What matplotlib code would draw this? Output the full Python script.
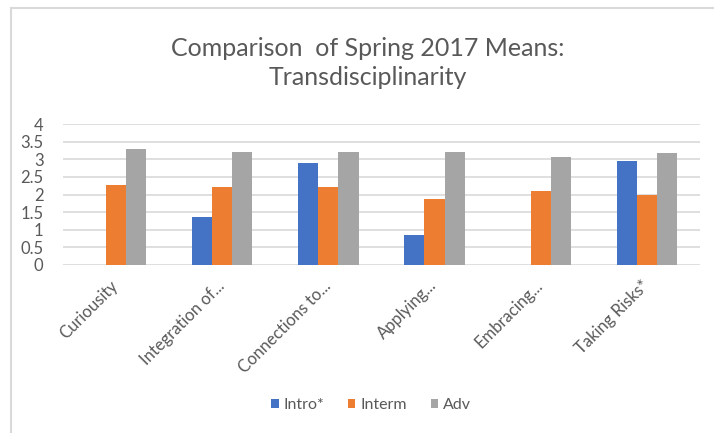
import numpy as np
import matplotlib
matplotlib.use("Agg")
import matplotlib.pyplot as plt
import matplotlib.transforms as mtransforms
from matplotlib.lines import Line2D

# data
categories = ["Curiousity", "Integration of...", "Connections to...",
              "Applying...", "Embracing...", "Taking Risks*"]
series_names = ["Intro*", "Interm", "Adv"]
intro = [np.nan, 1.36, 2.88, 0.85, np.nan, 2.95]
interm = [2.26, 2.20, 2.20, 1.86, 2.10, 1.99]
adv = [3.28, 3.22, 3.22, 3.22, 3.05, 3.17]
yticks = [0, 0.5, 1, 1.5, 2, 2.5, 3, 3.5, 4]

colors = ["#4472C4", "#ED7D31", "#A5A5A5"]
txt_gray = "#595959"
grid_gray = "#D9D9D9"

plt.rcParams["font.family"] = ["Lato", "DejaVu Sans"]

fig = plt.figure(figsize=(7.14, 4.33), dpi=100)
ax = fig.add_axes([0.0882, 0.388, 0.892, 0.3256])

x = np.arange(len(categories))
w = 0.19
for i, (vals, name) in enumerate(zip([intro, interm, adv], series_names)):
    ax.bar(x + (i - 1) * w, vals, width=w, color=colors[i], label=name, zorder=3)

ax.set_xlim(-0.5, len(categories) - 0.5)
ax.set_ylim(0, 4)
ax.set_yticks(yticks)
ax.set_yticklabels([f"{t:g}" for t in yticks], color=txt_gray, fontsize=12)
ax.yaxis.grid(True, color=grid_gray, linewidth=1.2, zorder=0)
for s in ax.spines.values():
    s.set_visible(False)
ax.tick_params(axis="both", length=0)
ax.tick_params(axis="y", pad=14)

ax.set_xticks(x)
ax.set_xticklabels(categories, rotation=45, ha="right", va="top",
                   rotation_mode="anchor", color=txt_gray, fontsize=12)
ax.tick_params(axis="x", pad=9)
shift = mtransforms.ScaledTranslation(-6 / 100, 0, fig.dpi_scale_trans)
for lab in ax.get_xticklabels():
    lab.set_transform(lab.get_transform() + shift)

# title, two centred lines
fig.text(368 / 714, 1 - 56 / 433, "Comparison  of Spring 2017 Means:",
         ha="center", va="baseline", fontsize=18, color=txt_gray)
fig.text(368 / 714, 1 - 85 / 433, "Transdisciplinarity",
         ha="center", va="baseline", fontsize=18, color=txt_gray)

leg = fig.legend(loc="center", bbox_to_anchor=(371 / 714, 1 - 405 / 433), ncol=3,
                 frameon=False, fontsize=11.5, handlelength=0.45, handleheight=0.45,
                 handletextpad=0.3, columnspacing=1.5)
for t in leg.get_texts():
    t.set_color(txt_gray)

# frame of the embedded chart
fig.add_artist(Line2D([11 / 714, 11 / 714], [0, 1 - 8 / 433],
                      transform=fig.transFigure, color=grid_gray, linewidth=1.5))
fig.add_artist(Line2D([11 / 714, 1], [1 - 8 / 433, 1 - 8 / 433],
                      transform=fig.transFigure, color=grid_gray, linewidth=1.5))

fig.savefig("out.png", dpi=100)
